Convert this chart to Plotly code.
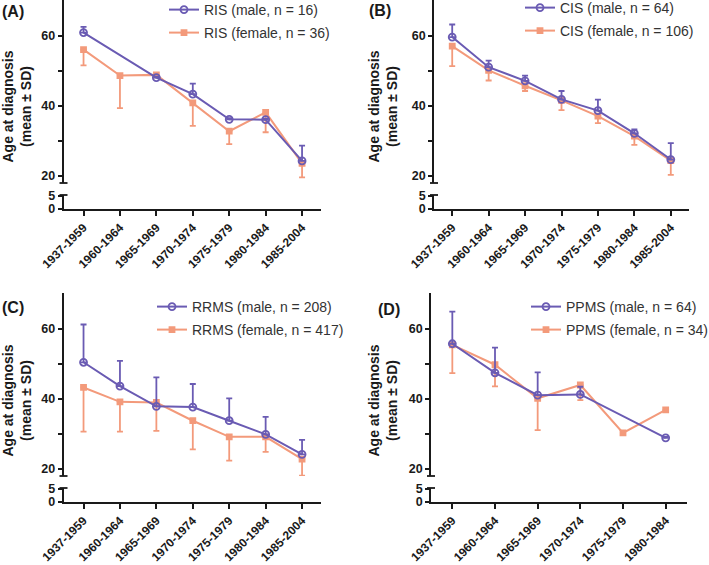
import plotly.graph_objects as go

### Data ###
periods7 = ['1937-1959', '1960-1964', '1965-1969', '1970-1974', '1975-1979', '1980-1984', '1985-2004']
periods6 = periods7[:6]

ris_male = [61.0, None, 48.1, 43.4, 36.2, 36.1, 24.3]
ris_male_sd = [1.6, None, 0.3, 3.0, 0.3, 0.3, 4.4]
ris_female = [56.1, 48.7, 48.9, 40.9, 32.8, 38.2, 23.6]
ris_female_sd = [4.5, 9.3, 0.3, 6.6, 3.7, 5.7, 4.0]

cis_male = [59.7, 51.1, 47.2, 41.9, 38.7, 32.2, 24.7]
cis_male_sd = [3.6, 1.9, 1.5, 2.4, 3.1, 1.1, 4.7]
cis_female = [57.1, 50.2, 45.8, 41.6, 37.1, 31.4, 24.4]
cis_female_sd = [5.7, 2.9, 1.5, 2.8, 2.0, 2.5, 4.1]

rrms_male = [50.5, 43.7, 37.9, 37.7, 33.8, 29.9, 24.2]
rrms_male_sd = [10.8, 7.2, 8.3, 6.6, 6.4, 5.0, 4.1]
rrms_female = [43.3, 39.2, 39.0, 33.8, 29.2, 29.2, 22.8]
rrms_female_sd = [12.6, 8.5, 8.1, 8.2, 6.8, 4.3, 4.7]

ppms_male = [55.8, 47.5, 41.1, 41.3, None, 28.9]
ppms_male_sd = [9.2, 7.2, 6.5, 2.2, None, 0.3]
ppms_female = [55.5, 49.8, 40.2, 44.0, 30.3, 36.9]
ppms_female_sd = [8.1, 6.2, 9.1, 4.3, 0.3, 0.3]

panels = [
    dict(tag='(A)', name='RIS', n=(16, 36), cats=periods7,
         male=ris_male, male_sd=ris_male_sd, female=ris_female, female_sd=ris_female_sd),
    dict(tag='(B)', name='CIS', n=(64, 106), cats=periods7,
         male=cis_male, male_sd=cis_male_sd, female=cis_female, female_sd=cis_female_sd),
    dict(tag='(C)', name='RRMS', n=(208, 417), cats=periods7,
         male=rrms_male, male_sd=rrms_male_sd, female=rrms_female, female_sd=rrms_female_sd),
    dict(tag='(D)', name='PPMS', n=(64, 34), cats=periods6,
         male=ppms_male, male_sd=ppms_male_sd, female=ppms_female, female_sd=ppms_female_sd),
]

### Layout geometry (pixels) ###
W, H = 709, 565
PURPLE = '#6A5BB3'
ORANGE = '#F39A7B'
FONT = 'Liberation Sans, Arial, sans-serif'

# x pixel extent, x range, vertical offset, legend text start, title centre, tag pos
geo = [
    dict(xpx=(63.5, 321), xr=(-0.55, 6.52), top=0, leg=(203, 10), title=(16.5, 107), tagpos=(0, 12)),
    dict(xpx=(434, 689), xr=(-0.5, 6.5), top=0, leg=(559, 8), title=(382.5, 107), tagpos=(367, 10)),
    dict(xpx=(63.5, 321), xr=(-0.55, 6.52), top=293, leg=(191, 307), title=(16.5, 401), tagpos=(0, 307)),
    dict(xpx=(431, 687), xr=(-0.5, 5.5), top=293, leg=(565, 307), title=(382.5, 401), tagpos=(376, 309)),
]


def fx(px):
    return px / W


def fy(px):
    return 1 - px / H


def sfx(k):
    return '' if k == 1 else str(k)


fig = go.Figure()
layout = dict(width=W, height=H, margin=dict(l=0, r=0, t=0, b=0, autoexpand=False),
              paper_bgcolor='white', plot_bgcolor='white',
              font=dict(family=FONT, color='#1a1a1a'),
              annotations=[], shapes=[])

tick_font = dict(family=FONT, size=12.5, color='#1a1a1a', weight='bold')
axis_common = dict(showgrid=False, zeroline=False, showline=True, linecolor='#1a1a1a', linewidth=1.8,
                   ticks='outside', ticklen=4, tickwidth=1.5, tickcolor='#1a1a1a', automargin=False,
                   tickfont=tick_font)

for i, (p, g) in enumerate(zip(panels, geo)):
    xs = sfx(i + 1)
    yus = sfx(i + 1)
    yls = str(i + 5)
    top = g['top']

    # empty trace so the lower (0-5) segment gets its own subplot
    fig.add_trace(go.Scatter(x=p['cats'], y=[None] * len(p['cats']), mode='lines', showlegend=False,
                             hoverinfo='skip', xaxis='x' + xs, yaxis='y' + yls))

    # female first so male sits on top
    for sex, col, sym, size in [('female', ORANGE, 'square', 5), ('male', PURPLE, 'circle-open', 7)]:
        n = p['n'][0] if sex == 'male' else p['n'][1]
        sd = [0 if v is None else v for v in p[sex + '_sd']]
        zeros = [0] * len(sd)
        err = dict(type='data', symmetric=False,
                   array=sd if sex == 'male' else zeros,
                   arrayminus=zeros if sex == 'male' else sd,
                   color=col, thickness=1.8, width=3)
        k = 2 * i + (1 if sex == 'male' else 2)
        fig.add_trace(go.Scatter(
            x=p['cats'], y=p[sex], mode='lines+markers', connectgaps=True,
            name=f"{p['name']} ({sex}, n = {n})",
            line=dict(color=col, width=2),
            marker=dict(symbol=sym, size=size, color=col, line=dict(width=1.8, color=col)),
            error_y=err, xaxis='x' + xs, yaxis='y' + yus,
            legend='legend' + sfx(k),
        ))

    layout['xaxis' + xs] = dict(axis_common, domain=[fx(g['xpx'][0]), fx(g['xpx'][1])],
                                range=list(g['xr']), type='category', anchor='y' + yls,
                                tickangle=-45, ticklen=5,
                                tickfont=dict(tick_font, size=12))
    layout['yaxis' + yus] = dict(axis_common, domain=[fy(top + 183), fy(top)], range=[18.0, 70.3],
                                 anchor='x' + xs, tickvals=[20, 30, 40, 50, 60],
                                 ticktext=['20', '', '40', '', '60'])
    layout['yaxis' + yls] = dict(axis_common, domain=[fy(top + 209), fy(top + 195)], range=[0, 5.4],
                                 anchor='x' + xs, tickvals=[0, 5], ticktext=['0', '5'])

    # axis break marks
    for yref, yv in [('y' + yus + ' domain', 0), ('y' + yls + ' domain', 1)]:
        layout['shapes'].append(dict(type='line', xref='x' + xs + ' domain', xsizemode='pixel', xanchor=0,
                                     x0=-4, x1=4, yref=yref, y0=yv, y1=yv,
                                     line=dict(color='#1a1a1a', width=1.8)))

    # legends, one per entry
    lx, ly = g['leg']
    for k, row in [(2 * i + 1, 0), (2 * i + 2, 1)]:
        layout['legend' + sfx(k)] = dict(
            x=fx(lx - 39), y=fy(ly + 23 * row), xanchor='left', yanchor='middle',
            bgcolor='rgba(0,0,0,0)', itemwidth=30,
            font=dict(family=FONT, size=14, color='#333333'))

    tx, ty = g['title']
    layout['annotations'].append(dict(text='<b>Age at diagnosis<br>(mean ± SD)</b>', textangle=-90,
                                      x=fx(tx), y=fy(ty), xref='paper', yref='paper', showarrow=False,
                                      xanchor='center', yanchor='middle',
                                      font=dict(family=FONT, size=14, color='#1a1a1a')))
    ax, ay = g['tagpos']
    layout['annotations'].append(dict(text='<b>' + p['tag'] + '</b>', x=fx(ax), y=fy(ay),
                                      xref='paper', yref='paper', showarrow=False,
                                      xanchor='left', yanchor='middle',
                                      font=dict(family=FONT, size=16, color='#1a1a1a')))

fig.update_layout(**layout)
# drop the browser's default body margin so the 709x565 figure fills the window exactly
fig.write_html("out.html", config={'displayModeBar': False},
               post_script="document.body.style.margin = '0';")
